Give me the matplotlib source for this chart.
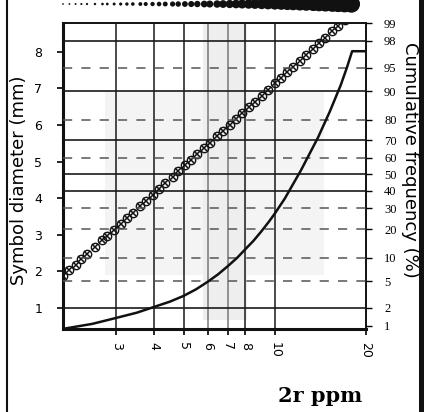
import matplotlib
matplotlib.use("Agg")
import matplotlib.pyplot as plt
from matplotlib.lines import Line2D
from matplotlib.patches import Rectangle
from matplotlib.ticker import NullLocator, NullFormatter
from statistics import NormalDist

# samples: Zr (ppm) and the symbol diameter assigned to each (mm)
zr_ppm = [2.0, 2.1, 2.2, 2.3, 2.4, 2.55, 2.7, 2.8, 2.95, 3.1, 3.25, 3.4,
          3.6, 3.75, 3.95, 4.15, 4.35, 4.6, 4.8, 5.05, 5.3, 5.55, 5.85,
          6.1, 6.45, 6.75, 7.1, 7.45, 7.8, 8.2, 8.6, 9.05, 9.5, 10.0,
          10.5, 11.0, 11.5, 12.1, 12.7, 13.4, 14.0, 14.7, 15.5, 16.2,
          17.0, 17.9]
diam_mm = [1.87, 2.03, 2.18, 2.33, 2.47, 2.66, 2.85, 2.97, 3.14, 3.30,
           3.46, 3.60, 3.79, 3.92, 4.09, 4.25, 4.41, 4.59, 4.73, 4.90,
           5.05, 5.20, 5.38, 5.51, 5.69, 5.84, 6.01, 6.17, 6.32, 6.48,
           6.63, 6.80, 6.96, 7.13, 7.29, 7.44, 7.58, 7.75, 7.91, 8.08,
           8.23, 8.38, 8.56, 8.70, 8.86, 9.03]

# cumulative frequency curve
cum_ppm = [2.0, 2.5, 3.0, 3.5, 4.0, 4.5, 5.0, 5.5, 6.0, 6.5, 7.0, 7.5,
           8.0, 8.5, 9.0, 9.56, 10.0, 10.8, 12.2, 13.9, 15.2, 16.5, 17.3,
           18.0, 20.0]
cum_pct = [0.87, 1.07, 1.36, 1.66, 2.07, 2.5, 3.07, 3.85, 4.9, 6.2, 7.9,
           9.9, 12.5, 15.3, 18.8, 23.3, 27.3, 35.6, 52.5, 71.6, 83.4,
           91.5, 95.0, 97.1, 97.1]

x_ticks = [3, 4, 5, 6, 7, 8, 10, 20]
mm_ticks = [1, 2, 3, 4, 5, 6, 7, 8]
pct_ticks = [1, 2, 5, 10, 20, 30, 40, 50, 60, 70, 80, 90, 95, 98, 99]
grid_pct = [98, 95, 90, 80, 70, 60, 50, 40, 30, 20, 10, 5, 2]
grid_solid = [True, False, True, False, True, False, True, True,
              False, False, False, False, True]

nd = NormalDist()


def probit(p):
    return nd.inv_cdf(p / 100.0)


fig = plt.figure(figsize=(4.26, 4.12), dpi=100)
ax = fig.add_axes([63 / 426, 83 / 412, 303 / 426, 306 / 412])
ax.set_xscale("log")
ax.set_xlim(2, 20)
ax.set_ylim(0.43, 8.78)

ax2 = ax.twinx()
ax2.set_ylim(-2.38, 2.33)

# faint grey background areas
ax.add_patch(Rectangle((2.75, 1.9), 14.5 - 2.75, 6.96 - 1.9,
                       color="#f4f4f4", lw=0, zorder=0))
ax.add_patch(Rectangle((5.8, 0.67), 8.1 - 5.8, 8.78 - 0.67,
                       color="#eeeeee", lw=0, zorder=0))

# vertical grid
for xv in x_ticks[:-1]:
    c = "#777777" if xv in (6, 7) else "#1a1a1a"
    ax.axvline(xv, color=c, lw=1.1, zorder=1)

# horizontal probability grid
for p, solid in zip(grid_pct, grid_solid):
    if solid:
        ax2.axhline(probit(p), color="#1a1a1a", lw=1.2, zorder=1)
    else:
        ax2.axhline(probit(p), color="#555555", lw=1.1, ls=(0, (6, 6)),
                    zorder=1)

# symbol diameter band
ax.plot(zr_ppm, diam_mm, ls="none", marker="o", mfc="none", mec="#111111",
        ms=6, mew=1.0, zorder=3)
ax.plot(zr_ppm, diam_mm, ls="none", marker="x", mec="#111111",
        ms=5, mew=1.1, zorder=3)

# row of symbols drawn at their size above the plot
sizes = [(0.72 * (1.0 + 0.2 * d * d)) ** 2 for d in diam_mm]
ax.scatter(zr_ppm, [1.062] * len(zr_ppm), s=sizes, c="#111111",
           transform=ax.get_xaxis_transform(), clip_on=False, lw=0,
           zorder=4)

# cumulative frequency
ax2.plot(cum_ppm, [probit(p) for p in cum_pct], color="#111111", lw=1.8,
         zorder=5)

# axes, ticks and labels
ax.set_xticks(x_ticks)
ax.set_xticklabels([str(v) for v in x_ticks], rotation=-90,
                   fontsize=9, family="DejaVu Sans")
ax.xaxis.set_minor_locator(NullLocator())
ax.xaxis.set_minor_formatter(NullFormatter())
ax.tick_params(axis="x", direction="out", length=4, width=1.2, pad=5)

ax.set_yticks(mm_ticks)
ax.set_yticklabels([str(v) for v in mm_ticks], fontsize=9,
                   family="DejaVu Sans")
ax.tick_params(axis="y", direction="out", length=4, width=1.2, pad=11)

ax2.set_yticks([probit(p) for p in pct_ticks])
ax2.set_yticklabels([str(p) for p in pct_ticks], fontsize=9,
                    family="Liberation Serif")
ax2.tick_params(axis="y", direction="out", length=4, width=1.0, pad=9)

for s in ax2.spines.values():
    s.set_visible(False)
for name, w in (("left", 2.2), ("bottom", 2.2), ("top", 1.4), ("right", 1.4)):
    ax.spines[name].set_linewidth(w)
    ax.spines[name].set_color("#111111")

fig.text(19 / 426, 1 - 180 / 412, "Symbol diameter (mm)", rotation=90,
         ha="center", va="center", fontsize=13, family="DejaVu Sans")
fig.text(410 / 426, 1 - 160 / 412, "Cumulative frequency (%)", rotation=-90,
         ha="center", va="center", fontsize=13, family="DejaVu Sans")
fig.text(320 / 426, 1 - 396 / 412, "2r ppm", ha="center", va="center",
         fontsize=15, family="DejaVu Serif", weight="bold")

# outer frame
fig.add_artist(Line2D([6.5 / 426] * 2, [0, 1], transform=fig.transFigure,
                      color="#111111", lw=1.5))
fig.add_artist(Line2D([421 / 426] * 2, [0, 1], transform=fig.transFigure,
                      color="#111111", lw=3.6))

fig.savefig("out.png", dpi=100)
